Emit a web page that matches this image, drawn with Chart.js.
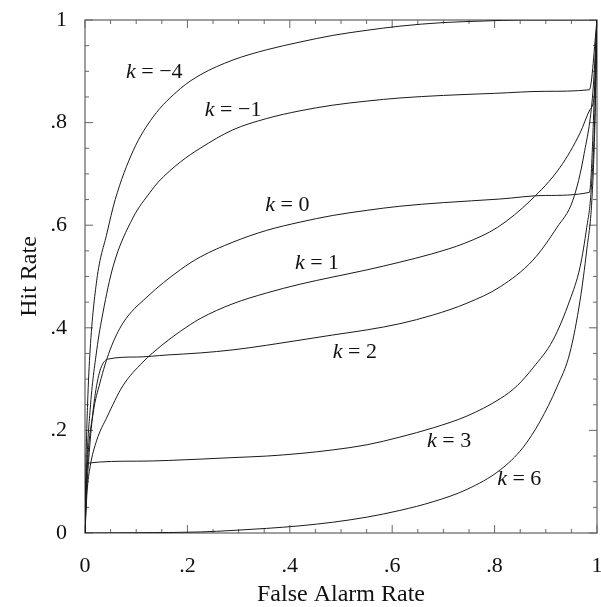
<!DOCTYPE html>
<html>
<head>
<meta charset="utf-8">
<script src="https://cdn.jsdelivr.net/npm/chart.js@4.4.1/dist/chart.umd.min.js"></script>
<style>
html, body { margin: 0; padding: 0; background: #fff; }
</style>
</head>
<body>
<canvas id="roc" width="601" height="607"></canvas>
<script>
// ROC curves for different k
const kValues = [-4, -1, 0, 1, 2, 3, 6];

const faKm4 = [0, 0.002, 0.005, 0.010, 0.023, 0.043, 0.059, 0.094, 0.133, 0.186, 0.225, 0.289, 0.355, 0.42, 0.484, 0.551, 0.615, 0.70, 0.78, 0.85, 0.95, 1];
const hitKm4 = [0, 0.14, 0.25, 0.357, 0.493, 0.585, 0.650, 0.745, 0.811, 0.866, 0.893, 0.922, 0.942, 0.957, 0.970, 0.980, 0.988, 0.995, 0.998, 1.0, 1.0, 1.0];

const faKm1 = [0, 0.003, 0.010, 0.023, 0.035, 0.055, 0.094, 0.127, 0.143, 0.186, 0.225, 0.289, 0.355, 0.42, 0.484, 0.551, 0.615, 0.70, 0.80, 0.90, 0.985, 1];
const hitKm1 = [0, 0.12, 0.24, 0.357, 0.429, 0.520, 0.615, 0.664, 0.684, 0.723, 0.750, 0.786, 0.808, 0.823, 0.834, 0.842, 0.848, 0.853, 0.857, 0.861, 0.864, 1];

const faK0 = [0, 0.004, 0.016, 0.029, 0.049, 0.074, 0.121, 0.186, 0.225, 0.289, 0.355, 0.42, 0.484, 0.551, 0.615, 0.70, 0.81, 0.90, 0.985, 1];
const hitK0 = [0, 0.12, 0.234, 0.292, 0.357, 0.409, 0.460, 0.513, 0.538, 0.567, 0.590, 0.606, 0.619, 0.629, 0.637, 0.644, 0.651, 0.658, 0.664, 1];

const faK1 = [0, 0.004, 0.010, 0.023, 0.043, 0.074, 0.113, 0.150, 0.186, 0.225, 0.289, 0.355, 0.42, 0.484, 0.551, 0.615, 0.677, 0.742, 0.806, 0.871, 0.928, 0.967, 0.986, 0.996, 1];
const hitK1 = [0, 0.08, 0.129, 0.181, 0.226, 0.287, 0.333, 0.366, 0.393, 0.418, 0.447, 0.468, 0.485, 0.499, 0.513, 0.528, 0.544, 0.565, 0.596, 0.649, 0.713, 0.780, 0.825, 0.864, 1];

const faK2 = [0, 0.003, 0.045, 0.10, 0.160, 0.225, 0.289, 0.355, 0.42, 0.484, 0.551, 0.615, 0.680, 0.746, 0.811, 0.875, 0.922, 0.953, 0.975, 0.992, 1];
const hitK2 = [0, 0.08, 0.339, 0.343, 0.347, 0.351, 0.357, 0.366, 0.376, 0.386, 0.396, 0.408, 0.425, 0.448, 0.480, 0.532, 0.596, 0.649, 0.74, 0.86, 1];

const faK3 = [0, 0.004, 0.10, 0.225, 0.289, 0.355, 0.42, 0.484, 0.551, 0.615, 0.680, 0.746, 0.811, 0.844, 0.875, 0.914, 0.947, 0.967, 0.980, 0.988, 0.996, 1];
const hitK3 = [0, 0.136, 0.140, 0.144, 0.147, 0.150, 0.155, 0.162, 0.172, 0.187, 0.205, 0.228, 0.262, 0.287, 0.322, 0.376, 0.454, 0.519, 0.596, 0.66, 0.82, 1];

const faK6 = [0, 0.10, 0.225, 0.289, 0.355, 0.42, 0.484, 0.551, 0.615, 0.680, 0.746, 0.811, 0.855, 0.889, 0.922, 0.947, 0.967, 0.980, 0.990, 0.996, 1];
const hitK6 = [0, 0.0005, 0.002, 0.005, 0.009, 0.014, 0.021, 0.031, 0.044, 0.061, 0.085, 0.123, 0.166, 0.218, 0.285, 0.351, 0.454, 0.552, 0.649, 0.80, 1];

// where each "k = ..." label sits (left edge, middle), in data units
const labelFA = [0.080, 0.234, 0.352, 0.410, 0.484, 0.668, 0.805];
const labelHit = [0.899, 0.825, 0.639, 0.526, 0.353, 0.179, 0.105];

const majorTicks = [0, 0.2, 0.4, 0.6, 0.8, 1];
const minorTicks = [0.05, 0.1, 0.15, 0.25, 0.3, 0.35, 0.45, 0.5, 0.55, 0.65, 0.7, 0.75, 0.85, 0.9, 0.95];

const serif = '"Liberation Serif", "Times New Roman", serif';

function toPoints(fa, hit) {
    return fa.map((v, i) => ({ x: v, y: hit[i] }));
}

function tickLabel(v) {
    if (Math.abs(v) < 1e-9) return '0';
    if (Math.abs(v - 1) < 1e-9) return '1';
    return v.toFixed(1).slice(1);
}

const curves = [
    [faKm4, hitKm4], [faKm1, hitKm1], [faK0, hitK0], [faK1, hitK1],
    [faK2, hitK2], [faK3, hitK3], [faK6, hitK6]
];

const datasets = curves.map((c, i) => ({
    label: 'k = ' + kValues[i],
    data: toPoints(c[0], c[1]),
    showLine: true,
    borderColor: '#1a1a1a',
    borderWidth: 1,
    pointRadius: 0,
    cubicInterpolationMode: 'monotone'
}));

const frame = {
    id: 'frame',
    beforeDatasetsDraw(chart) {
        const { ctx, chartArea: a, scales: { x, y } } = chart;
        ctx.save();
        ctx.strokeStyle = '#808080';
        ctx.lineWidth = 1.5;
        ctx.strokeRect(a.left, a.top, a.right - a.left, a.bottom - a.top);
        ctx.lineWidth = 1;
        ctx.strokeStyle = '#666';
        const drawTick = (v, len) => {
            const px = x.getPixelForValue(v);
            const py = y.getPixelForValue(v);
            ctx.beginPath();
            ctx.moveTo(px, a.bottom); ctx.lineTo(px, a.bottom - len);
            ctx.moveTo(px, a.top); ctx.lineTo(px, a.top + len);
            ctx.moveTo(a.left, py); ctx.lineTo(a.left + len, py);
            ctx.moveTo(a.right, py); ctx.lineTo(a.right - len, py);
            ctx.stroke();
        };
        majorTicks.forEach(v => drawTick(v, 8));
        minorTicks.forEach(v => drawTick(v, 4));
        ctx.restore();
    },
    afterDraw(chart) {
        const { ctx, scales: { x, y } } = chart;
        ctx.save();
        ctx.fillStyle = '#111';
        ctx.textBaseline = 'middle';
        ctx.textAlign = 'left';
        kValues.forEach((k, i) => {
            const px = x.getPixelForValue(labelFA[i]);
            const py = y.getPixelForValue(labelHit[i]);
            ctx.font = 'italic 22px ' + serif;
            ctx.fillText('k', px, py);
            const w = ctx.measureText('k').width;
            ctx.font = '22px ' + serif;
            const num = k < 0 ? '\u2212' + Math.abs(k) : String(k);
            ctx.fillText(' = ' + num, px + w, py);
        });
        ctx.restore();
    }
};

new Chart(document.getElementById('roc'), {
    type: 'scatter',
    data: { datasets },
    options: {
        responsive: false,
        animation: false,
        layout: { padding: { top: 20, right: 4, left: 0, bottom: 0 } },
        plugins: { legend: { display: false }, tooltip: { enabled: false } },
        scales: {
            x: {
                type: 'linear', min: 0, max: 1,
                grid: { display: false }, border: { display: false },
                ticks: {
                    stepSize: 0.2, autoSkip: false, maxRotation: 0, padding: 12,
                    color: '#111', font: { family: serif, size: 22 },
                    callback: tickLabel
                },
                title: {
                    display: true, text: 'False Alarm Rate', color: '#111',
                    font: { family: serif, size: 24, lineHeight: 1 },
                    padding: { top: 0, bottom: 0 }
                },
                afterFit(scale) {
                    scale.height = 74;
                    scale.paddingLeft = 0;
                    scale.paddingRight = 0;
                }
            },
            y: {
                type: 'linear', min: 0, max: 1,
                grid: { display: false }, border: { display: false },
                ticks: {
                    stepSize: 0.2, autoSkip: false, padding: 10,
                    color: '#111', font: { family: serif, size: 22 },
                    callback: tickLabel
                },
                title: {
                    display: true, text: 'Hit Rate', color: '#111',
                    font: { family: serif, size: 24, lineHeight: 1 },
                    padding: { top: 18, bottom: 0 }
                },
                afterFit(scale) {
                    scale.width = 85;
                    scale.paddingTop = 0;
                    scale.paddingBottom = 0;
                }
            }
        }
    },
    plugins: [frame]
});
</script>
</body>
</html>
